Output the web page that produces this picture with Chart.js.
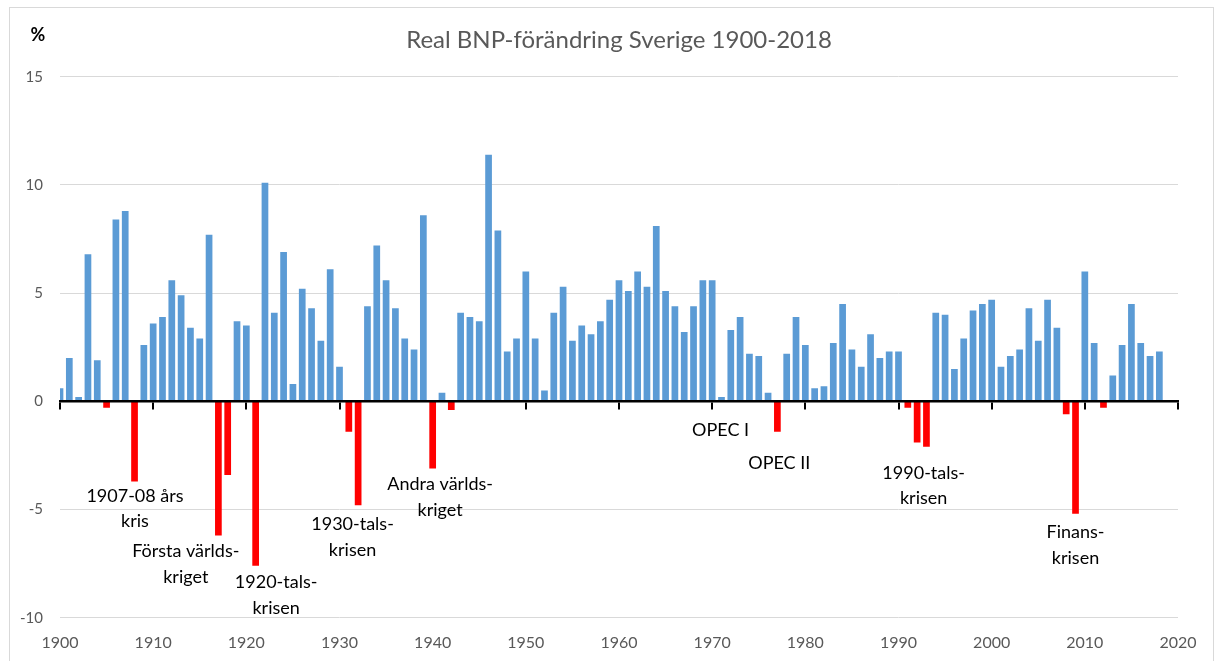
<!DOCTYPE html>
<html>
<head>
<meta charset="utf-8">
<script src="https://cdn.jsdelivr.net/npm/chart.js@4.4.1/dist/chart.umd.min.js"></script>
<style>
  html, body { margin: 0; padding: 0; background: #fff; overflow: hidden; }
  #frame { position: absolute; left: 9px; top: 7px; width: 1205px; height: 700px; border: 1px solid #d9d9d9; box-sizing: border-box; }
  #wrap { position: absolute; left: 0; top: 0; width: 1215px; height: 661px; }
</style>
</head>
<body>
<div id="frame"></div>
<div id="wrap"><canvas id="chart" width="1215" height="661"></canvas></div>
<script>
// years 1900-2018
const years = [
  1900, 1901, 1902, 1903, 1904, 1905, 1906, 1907, 1908, 1909,
  1910, 1911, 1912, 1913, 1914, 1915, 1916, 1917, 1918, 1919,
  1920, 1921, 1922, 1923, 1924, 1925, 1926, 1927, 1928, 1929,
  1930, 1931, 1932, 1933, 1934, 1935, 1936, 1937, 1938, 1939,
  1940, 1941, 1942, 1943, 1944, 1945, 1946, 1947, 1948, 1949,
  1950, 1951, 1952, 1953, 1954, 1955, 1956, 1957, 1958, 1959,
  1960, 1961, 1962, 1963, 1964, 1965, 1966, 1967, 1968, 1969,
  1970, 1971, 1972, 1973, 1974, 1975, 1976, 1977, 1978, 1979,
  1980, 1981, 1982, 1983, 1984, 1985, 1986, 1987, 1988, 1989,
  1990, 1991, 1992, 1993, 1994, 1995, 1996, 1997, 1998, 1999,
  2000, 2001, 2002, 2003, 2004, 2005, 2006, 2007, 2008, 2009,
  2010, 2011, 2012, 2013, 2014, 2015, 2016, 2017, 2018
];

// real GDP change, %
const growth = [
  0.6, 2.0, 0.2, 6.8, 1.9, -0.3, 8.4, 8.8, -3.7, 2.6,
  3.6, 3.9, 5.6, 4.9, 3.4, 2.9, 7.7, -6.2, -3.4, 3.7,
  3.5, -7.6, 10.1, 4.1, 6.9, 0.8, 5.2, 4.3, 2.8, 6.1,
  1.6, -1.4, -4.8, 4.4, 7.2, 5.6, 4.3, 2.9, 2.4, 8.6,
  -3.1, 0.4, -0.4, 4.1, 3.9, 3.7, 11.4, 7.9, 2.3, 2.9,
  6.0, 2.9, 0.5, 4.1, 5.3, 2.8, 3.5, 3.1, 3.7, 4.7,
  5.6, 5.1, 6.0, 5.3, 8.1, 5.1, 4.4, 3.2, 4.4, 5.6,
  5.6, 0.2, 3.3, 3.9, 2.2, 2.1, 0.4, -1.4, 2.2, 3.9,
  2.6, 0.6, 0.7, 2.7, 4.5, 2.4, 1.6, 3.1, 2.0, 2.3,
  2.3, -0.3, -1.9, -2.1, 4.1, 4.0, 1.5, 2.9, 4.2, 4.5,
  4.7, 1.6, 2.1, 2.4, 4.3, 2.8, 4.7, 3.4, -0.6, -5.2,
  6.0, 2.7, -0.3, 1.2, 2.6, 4.5, 2.7, 2.1, 2.3
];

const xTicks = [1900, 1910, 1920, 1930, 1940, 1950, 1960, 1970, 1980, 1990, 2000, 2010, 2020];
const yTicks = [-10, -5, 0, 5, 10, 15];

// crisis labels, anchored at (year, value) of the first line
const notes = [
  { lines: ['1907-08 års', 'kris'], year: 1908.05, value: -4.38 },
  { lines: ['Första världs-', 'kriget'], year: 1913.5, value: -6.93 },
  { lines: ['1920-tals-', 'krisen'], year: 1923.2, value: -8.38 },
  { lines: ['1930-tals-', 'krisen'], year: 1931.4, value: -5.70 },
  { lines: ['Andra världs-', 'kriget'], year: 1940.8, value: -3.84 },
  { lines: ['OPEC I'], year: 1970.9, value: -1.34 },
  { lines: ['OPEC II'], year: 1977.2, value: -2.88 },
  { lines: ['1990-tals-', 'krisen'], year: 1992.7, value: -3.31 },
  { lines: ['Finans-', 'krisen'], year: 2009.0, value: -6.07 }
];

const FONT = 'Lato, "Open Sans", sans-serif';
const BLUE = '#5B9BD5';
const RED = '#FF0000';
const GREY_TEXT = '#595959';

const notesPlugin = {
  id: 'notes',
  afterDraw(chart) {
    const { ctx, scales } = chart;
    ctx.save();
    ctx.fillStyle = '#000';
    ctx.font = '18px ' + FONT;
    ctx.textAlign = 'center';
    ctx.textBaseline = 'middle';
    notes.forEach(n => {
      const x = scales.x.getPixelForValue(n.year);
      const y = scales.y.getPixelForValue(n.value);
      n.lines.forEach((line, i) => ctx.fillText(line, x, y + i * 25.5));
    });
    // unit label
    ctx.font = 'bold 18px ' + FONT;
    ctx.fillText('%', 38, 35);
    ctx.restore();
  }
};

const ctx = document.getElementById('chart').getContext('2d');

new Chart(ctx, {
  type: 'bar',
  data: {
    datasets: [{
      data: years.map((yr, i) => ({ x: yr, y: growth[i] })),
      backgroundColor: growth.map(v => v < 0 ? RED : BLUE),
      borderWidth: 0,
      barPercentage: 0.72,
      categoryPercentage: 1,
      xAxisID: 'x',
      yAxisID: 'y'
    }]
  },
  options: {
    responsive: false,
    animation: false,
    devicePixelRatio: 1,
    layout: { padding: { left: 0, right: 37, top: 0, bottom: 10 } },
    plugins: {
      legend: { display: false },
      tooltip: { enabled: false },
      title: {
        display: true,
        text: 'Real BNP-förändring Sverige 1900-2018',
        fullSize: false,
        color: GREY_TEXT,
        font: { family: FONT, size: 24, weight: 'normal' },
        padding: { top: 26, bottom: 22 }
      }
    },
    scales: {
      x: {
        type: 'linear',
        axis: 'x',
        position: { y: 0 },
        min: 1900,
        max: 2020,
        offset: false,
        afterBuildTicks: s => { s.ticks = xTicks.map(v => ({ value: v })); },
        afterFit: s => { s.height = 0; },
        ticks: { display: false },
        grid: { offset: false, drawOnChartArea: false, drawTicks: true, tickLength: 7, color: '#000', lineWidth: 2 },
        border: { display: true, color: '#000', width: 2.5, z: 1 }
      },
      x2: {
        type: 'linear',
        axis: 'x',
        position: 'bottom',
        min: 1900,
        max: 2020,
        offset: false,
        afterBuildTicks: s => { s.ticks = xTicks.map(v => ({ value: v })); },
        afterFit: s => { s.height = 33.3; },
        ticks: {
          color: GREY_TEXT, padding: 16, maxRotation: 0, autoSkip: false,
          font: { family: FONT, size: 16 },
          callback: v => String(v)
        },
        grid: { display: false, drawTicks: false, offset: false },
        border: { display: false }
      },
      y: {
        min: -10,
        max: 15,
        afterBuildTicks: s => { s.ticks = yTicks.map(v => ({ value: v })); },
        afterFit: s => { s.width = 60; },
        ticks: { color: GREY_TEXT, padding: 17, font: { family: FONT, size: 15 } },
        grid: { color: '#d9d9d9', lineWidth: 1, drawTicks: false },
        border: { display: false }
      }
    }
  },
  plugins: [notesPlugin]
});
</script>
</body>
</html>
